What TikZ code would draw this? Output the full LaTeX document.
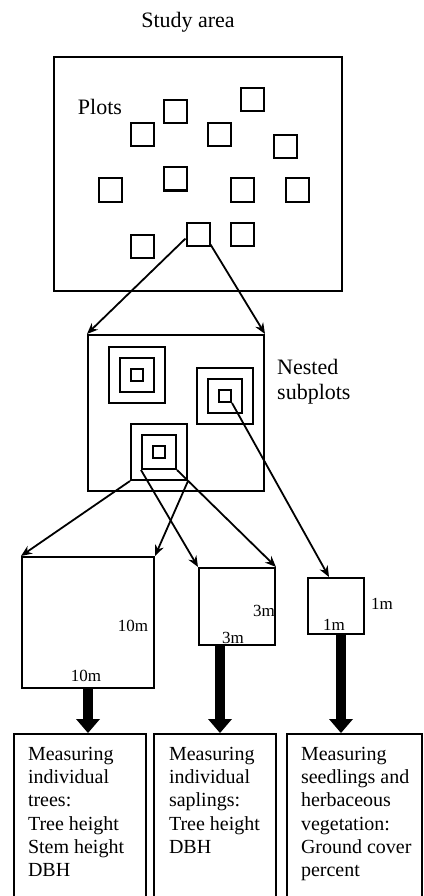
\documentclass[tikz,border=0pt]{standalone}
\usepackage{fontspec}
\setmainfont{Liberation Serif}
\usepackage{tikz}
\usetikzlibrary{arrows.meta}

\begin{document}
\begin{tikzpicture}[x=1pt, y=-1pt,
    box/.style={draw, line width=2pt, inner sep=0pt},
    sq/.style={box, minimum size=#1},
    lbl/.style={font=\fontsize{22}{25}\selectfont, align=left},
    dim/.style={font=\fontsize{17}{19}\selectfont, inner sep=0pt},
    task/.style={box, anchor=north west, inner xsep=7pt, inner ysep=13pt,
        font=\fontsize{20}{23.3}\selectfont},
    link/.style={line width=1.8pt, -{Stealth[length=11pt, width=9pt]}},
    fat/.style={line width=10pt, -{Triangle[length=14pt, width=24pt, line width=0pt]}}]
\useasboundingbox (0,0) rectangle (423,896);

% study area with plots
\node (title) at (188,22) [lbl] {Study area};
\node[box, minimum width=288pt, minimum height=234pt] (area) at (198,174) {};
\node (plotlbl) at (100,107) [lbl] {Plots};
\foreach \n/\x/\y in {1/175/112, 2/252/100, 3/142/135, 4/219/135, 5/285/147, 6/175/179,
    7/110/190, 8/242/190, 9/297/190, 10/198/234, 11/242/234, 12/142/246}
    \node[sq=23pt] (p\n) at (\x,\y) {};

% plot with nested subplots
\node[box, minimum width=176pt, minimum height=156pt] (plot) at (176,413) {};
\foreach \s/\x/\y in {a/137/375, b/225/396, c/159/452} {
    \node[sq=56pt] (\s out) at (\x,\y) {};
    \node[sq=34pt] (\s mid) at (\x,\y) {};
    \node[sq=12pt] (\s in) at (\x,\y) {};
}
\node (nestlbl) at (277,382) [lbl, anchor=west, inner sep=0pt] {Nested\\subplots};
\draw[link] (p10.200) -- (plot.north west);
\draw[link] (p10.-40) -- (plot.north east);

% subplot sizes
\node[box, minimum width=132pt, minimum height=131pt] (trees) at (88,622.5) {};
\node[box, minimum width=76pt, minimum height=77pt] (saps) at (237,606.5) {};
\node[box, minimum width=56pt, minimum height=56pt] (herbs) at (336,606) {};
\node[dim] (t1) at (133,626) {10m};
\node[dim] (t2) at (86,676) {10m};
\node[dim] (s1) at (264,611) {3m};
\node[dim] (s2) at (233,638) {3m};
\node[dim] (h1) at (382,604) {1m};
\node[dim] (h2) at (334,625) {1m};
\draw[link] (cout.south west) -- (trees.north west);
\draw[link] (cout.south east) -- (trees.north east);
\draw[link] (cmid.south west) -- (saps.north west);
\draw[link] (cmid.south east) -- (saps.north east);
\draw[link] (bin.south east) -- ([xshift=-7pt]herbs.north);

% what is measured
\node[task] (m1) at (13,733) {\parbox[t][150pt][t]{118pt}{\raggedright\leftskip=7pt
    Measuring\\individual\\trees:\\Tree height\\Stem height\\DBH}};
\node[task] (m2) at (153,733) {\parbox[t][150pt][t]{108pt}{\raggedright\leftskip=8pt
    Measuring\\individual\\saplings:\\Tree height\\DBH}};
\node[task] (m3) at (286,733) {\parbox[t][150pt][t]{121pt}{\raggedright\leftskip=7pt
    Measuring\\seedlings and\\herbaceous\\vegetation:\\Ground cover\\percent}};
\draw[fat] (trees.south) -- (trees.south |- m1.north);
\draw[fat] ([xshift=-17pt]saps.south) -- ([xshift=-17pt]saps.south |- m2.north);
\draw[fat] ([xshift=5pt]herbs.south) -- ([xshift=5pt]herbs.south |- m3.north);
\end{tikzpicture}
\end{document}
